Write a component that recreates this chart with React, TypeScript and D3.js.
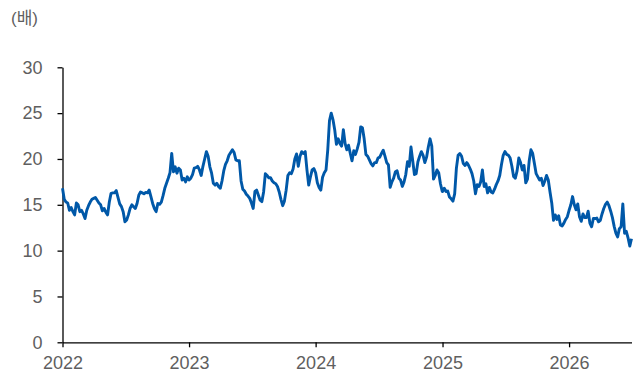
import React, { useEffect, useRef } from "react";
import * as d3 from "d3";

// PER band, sampled every 5 days from Jan 1 of each year
const pe2022 = [
  16.8, 15.6, 15.3, 15.2, 14.4, 14.7, 14.25, 13.9, 15.2, 15.0,
  14.25, 14.4, 14.0, 13.5, 14.4, 14.9, 15.3, 15.6, 15.7, 15.8,
  15.5, 15.2, 15.0, 14.35, 14.6, 14.2, 13.9, 15.3, 16.25, 16.3,
  16.3, 16.55, 15.8, 15.1, 14.8, 14.25, 13.15, 13.35, 13.9, 14.6,
  15.0, 14.8, 14.6, 15.15, 16.05, 16.4, 16.3, 16.2, 16.35, 16.3,
  16.6, 15.9, 15.15, 14.6, 14.25, 15.15, 15.05, 15.3, 16.0, 16.8,
  17.35, 17.9, 18.5, 20.6, 18.6, 19.15, 18.45, 19.0, 18.8, 17.7,
  17.9, 17.5, 18.05,
];
const pe2023 = [
  17.7, 17.9, 18.3, 19.0, 19.05, 19.2, 18.8, 18.2, 19.2, 20.0,
  20.8, 20.3, 19.15, 18.45, 17.35, 17.15, 17.35, 17.0, 16.8, 17.6,
  18.7, 19.4, 19.8, 20.4, 20.7, 21.0, 20.7, 19.9, 19.8, 19.8,
  17.6, 16.7, 16.5, 16.15, 15.95, 15.7, 15.2, 14.6, 16.45, 16.6,
  16.05, 15.5, 15.35, 16.4, 18.4, 18.2, 17.95, 17.95, 17.6, 17.4,
  17.3, 17.0, 16.4, 15.6, 14.9, 15.4, 16.6, 18.2, 18.5, 18.4,
  18.9, 20.0, 20.55, 19.2, 20.3, 20.8, 20.6, 20.8, 18.8, 17.15,
  18.05, 18.8, 18.95,
];
const pe2024 = [
  18.5, 17.4, 16.9, 16.6, 18.0, 18.5, 18.8, 21.0, 24.2, 25.0,
  24.3, 23.2, 21.6, 22.2, 21.7, 21.4, 23.2, 21.7, 21.0, 21.5,
  20.6, 19.8, 20.9, 20.5, 21.1, 21.8, 23.5, 23.4, 22.2, 20.5,
  20.3, 19.9, 19.5, 19.25, 19.6, 19.6, 20.1, 20.2, 20.6, 20.95,
  20.3, 19.6, 19.35, 16.9, 17.5, 17.9, 18.6, 18.7, 17.9, 17.7,
  17.0, 17.5, 18.3, 19.7, 19.2, 21.3, 19.8, 18.3, 18.4, 19.7,
  20.3, 20.8, 20.4, 19.6, 20.2, 21.3, 22.2, 21.4, 17.8, 18.2,
  18.8, 18.5, 17.3, 16.5,
];
const pe2025 = [
  16.45, 16.8, 16.45, 16.5, 15.85, 15.65, 15.4, 16.2, 19.0, 20.4,
  20.6, 20.3, 19.5, 19.3, 19.6, 19.3, 18.9, 18.4, 17.6, 16.2,
  17.2, 17.0, 17.5, 18.8, 17.0, 17.3, 16.3, 16.9, 16.4, 16.3,
  16.7, 17.2, 17.6, 18.2, 19.4, 20.4, 20.8, 20.5, 20.4, 20.1,
  19.2, 18.1, 17.9, 18.7, 20.1, 19.6, 18.8, 19.3, 17.4, 17.8,
  19.8, 21.0, 20.6, 19.5, 18.4, 18.05, 17.7, 17.9, 17.1, 17.6,
  18.2, 17.7, 16.4, 15.2, 13.3, 13.9, 13.4, 13.8, 12.8, 12.7,
  13.0, 13.4, 13.7,
];
const pe2026 = [
  14.4, 15.0, 15.9, 15.0, 14.45, 15.1, 13.7, 13.2, 14.0, 13.6,
  13.6, 14.3, 13.0, 12.6, 13.5, 13.5, 13.55, 13.15, 13.3, 14.0,
  14.6, 15.05, 15.3, 14.9, 14.3, 13.6, 12.65, 11.9, 11.5, 12.4,
  12.6, 15.1, 11.9, 12.1, 11.4, 10.5, 11.3,
];

const years = [2022, 2023, 2024, 2025, 2026];
const yTicks = [0, 5, 10, 15, 20, 25, 30];
const unitLabel = "(배)";

const width = 633;
const height = 376;

const App = () => {
  const ref = useRef<SVGSVGElement>(null);

  useEffect(() => {
    const byYear = [pe2022, pe2023, pe2024, pe2025, pe2026];
    const data: { date: Date; value: number }[] = [];
    byYear.forEach((vals, k) => {
      vals.forEach((v, i) => data.push({ date: new Date(years[k], 0, 1 + 5 * i), value: v }));
    });

    const x = d3.scaleTime()
      .domain([new Date(2022, 0, 1), data[data.length - 1].date])
      .range([62.5, 631.5]);
    const y = d3.scaleLinear().domain([0, 30]).range([342.3, 67.3]);

    const svg = d3.select(ref.current);
    svg.selectAll("*").remove();

    const font = "'Liberation Sans', Arial, 'Noto Sans CJK KR', sans-serif";

    const gy = svg.append("g")
      .attr("transform", `translate(${x.range()[0]},0)`)
      .call(d3.axisLeft(y).tickValues(yTicks).tickSize(5).tickSizeOuter(0).tickPadding(15));
    const gx = svg.append("g")
      .attr("transform", `translate(0,${y(0)})`)
      .call(d3.axisBottom(x).ticks(d3.timeYear.every(1)).tickFormat(d3.timeFormat("%Y") as any)
        .tickSize(5).tickSizeOuter(0).tickPadding(9));

    [gx, gy].forEach(g => {
      g.select(".domain").attr("stroke", "#000").attr("stroke-width", 1.3);
      g.selectAll(".tick line").attr("stroke", "#000").attr("stroke-width", 1.3);
      g.selectAll(".tick text")
        .attr("fill", "#5f5f5f")
        .attr("font-size", 18)
        .attr("font-family", font);
    });

    const line = d3.line<{ date: Date; value: number }>()
      .x(d => x(d.date))
      .y(d => y(d.value))
      .curve(d3.curveLinear);

    svg.append("path")
      .datum(data)
      .attr("fill", "none")
      .attr("stroke", "#0058A8")
      .attr("stroke-width", 2.9)
      .attr("stroke-linejoin", "round")
      .attr("d", line);

    svg.append("text")
      .attr("x", 11)
      .attr("y", 24)
      .attr("fill", "#5f5f5f")
      .attr("font-size", 17)
      .attr("font-family", font)
      .text(unitLabel);
  }, []);

  return (
    <div style={{ position: "absolute", left: 0, top: 0 }}>
      <svg ref={ref} width={width} height={height} style={{ display: "block", background: "#fff" }} />
    </div>
  );
};

export default App;
